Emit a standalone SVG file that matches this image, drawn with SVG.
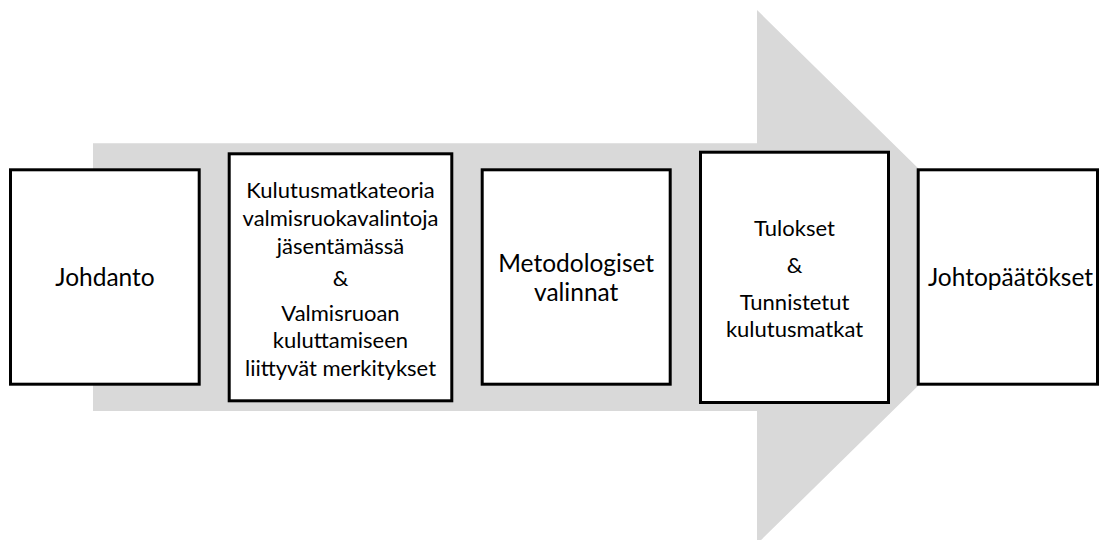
<svg xmlns="http://www.w3.org/2000/svg" width="1100" height="540" viewBox="0 0 1100 540">
  <style>
    .box { fill: #ffffff; stroke: #000000; stroke-width: 3; }
    .big { font-family: Lato, "Liberation Sans", sans-serif; font-size: 24.5px; fill: #000000; text-anchor: middle; }
    .small { font-family: Lato, "Liberation Sans", sans-serif; font-size: 22px; fill: #000000; text-anchor: middle; }
  </style>
  <rect width="1100" height="540" fill="#ffffff"/>

  <!-- Background process arrow -->
  <g id="connectors">
    <polygon points="93,143.3 757,143.3 757,10 1029,277 757,544 757,411 93,411" fill="#d9d9d9"/>
  </g>

  <g id="johdanto">
    <rect class="box" x="10.5" y="169.8" width="188.7" height="214.4"/>
    <text class="big" x="105" y="285.5">Johdanto</text>
  </g>

  <g id="kulutusmatkateoria">
    <rect class="box" x="229.2" y="153.8" width="222.6" height="247"/>
    <text class="small" x="340.5" y="197.5">Kulutusmatkateoria</text>
    <text class="small" x="340.5" y="226">valmisruokavalintoja</text>
    <text class="small" x="340.5" y="254">jäsentämässä</text>
    <text class="small" x="340.5" y="286">&amp;</text>
    <text class="small" x="340.5" y="320.5">Valmisruoan</text>
    <text class="small" x="340.5" y="348">kuluttamiseen</text>
    <text class="small" x="340.5" y="375.5">liittyvät merkitykset</text>
  </g>

  <g id="metodologiset">
    <rect class="box" x="482.2" y="169.8" width="188" height="214.4"/>
    <text class="big" x="576.2" y="271.5">Metodologiset</text>
    <text class="big" x="576.2" y="300.5">valinnat</text>
  </g>

  <g id="tulokset">
    <rect class="box" x="700.5" y="152.2" width="188" height="250.3"/>
    <text class="small" x="794.5" y="235.5">Tulokset</text>
    <text class="small" x="794.5" y="273">&amp;</text>
    <text class="small" x="794.5" y="309.5">Tunnistetut</text>
    <text class="small" x="794.5" y="336.5">kulutusmatkat</text>
  </g>

  <g id="johtopaatokset">
    <rect class="box" x="918.2" y="169.8" width="179.3" height="214.4"/>
    <text class="big" x="1010.5" y="285.5">Johtopäätökset</text>
  </g>
</svg>
